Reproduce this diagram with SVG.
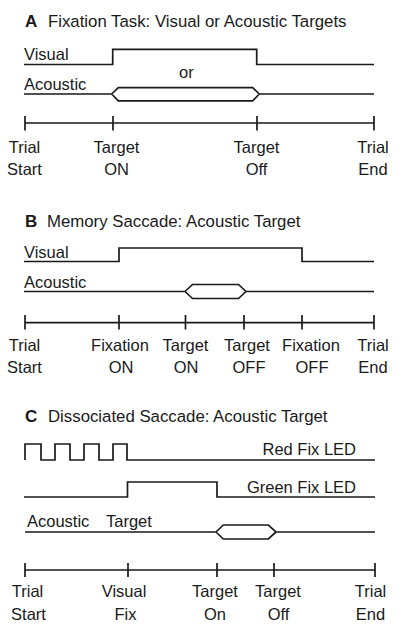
<svg xmlns="http://www.w3.org/2000/svg" width="400" height="635" viewBox="0 0 400 635">
<style>
text{font-family:"Liberation Sans",Arial,sans-serif;font-size:16.5px;fill:#1a1a1a}
.t{font-size:16.8px}
.b{font-weight:bold;font-size:17px}
.m{text-anchor:middle}
.w{fill:none;stroke:#1a1a1a;stroke-width:1.7;stroke-linejoin:miter}
</style>
<rect width="400" height="635" fill="#fff"/>
<g id="panelA">
<text x="25" y="26.5" class="b">A</text>
<text x="48" y="26.5" class="t">Fixation Task: Visual or Acoustic Targets</text>
<g id="A-visual"><text x="24" y="60">Visual</text></g>
<g id="A-acoustic"><text x="24" y="89.5">Acoustic</text></g>
<text x="179" y="78">or</text>
<g id="A-ticks">
<text x="24.5" y="153" class="m">Trial</text><text x="24.5" y="175" class="m">Start</text>
<text x="116.5" y="153" class="m">Target</text><text x="116.5" y="175" class="m">ON</text>
<text x="256.5" y="153" class="m">Target</text><text x="256.5" y="175" class="m">Off</text>
<text x="373" y="153" class="m">Trial</text><text x="373" y="175" class="m">End</text>
</g>
</g>
<g id="panelB">
<text x="25" y="226.5" class="b">B</text>
<text x="47" y="226.5" class="t">Memory Saccade: Acoustic Target</text>
<g id="B-visual"><text x="24" y="258">Visual</text></g>
<g id="B-acoustic"><text x="24" y="287.5">Acoustic</text></g>
<g id="B-ticks">
<text x="24.5" y="351" class="m">Trial</text><text x="24.5" y="373" class="m">Start</text>
<text x="120" y="351" class="m">Fixation</text><text x="121" y="373" class="m">ON</text>
<text x="185.5" y="351" class="m">Target</text><text x="186" y="373" class="m">ON</text>
<text x="247" y="351" class="m">Target</text><text x="249" y="373" class="m">OFF</text>
<text x="311" y="351" class="m">Fixation</text><text x="312" y="373" class="m">OFF</text>
<text x="373" y="351" class="m">Trial</text><text x="373" y="373" class="m">End</text>
</g>
</g>
<g id="panelC">
<text x="25" y="421.5" class="b">C</text>
<text x="48" y="421.5" class="t">Dissociated Saccade: Acoustic Target</text>
<g id="C-red"><text x="356" y="455" text-anchor="end">Red Fix LED</text></g>
<g id="C-green"><text x="356" y="493" text-anchor="end">Green Fix LED</text></g>
<g id="C-acoustic"><text x="27" y="527">Acoustic</text><text x="106" y="527">Target</text></g>
<g id="C-ticks">
<text x="27.5" y="597" class="m">Trial</text><text x="28.5" y="620" class="m">Start</text>
<text x="124" y="597" class="m">Visual</text><text x="125.5" y="620" class="m">Fix</text>
<text x="215" y="597" class="m">Target</text><text x="215" y="620" class="m">On</text>
<text x="278" y="597" class="m">Target</text><text x="278.5" y="620" class="m">Off</text>
<text x="370.5" y="597" class="m">Trial</text><text x="370.5" y="620" class="m">End</text>
</g>
</g>
<g id="connectors">
<path class="w" d="M24 64.5H112.7V49.3H256.7V64.5H374"/>
<path class="w" d="M24 94H111.7L118.3 87.7H252.7L259.3 94H374M111.7 94L118.3 100.8H252.7L259.3 94"/>
<path class="w" d="M25 123H374M25 116V130.5M113 116V130.5M257 116V130.5M374 116V130.5"/>
<path class="w" d="M24 261.5H119V248H302V261.5H374"/>
<path class="w" d="M24 291.5H185L192.5 284.5H238.5L246 291.5H374M185 291.5L192.5 298.5H238.5L246 291.5"/>
<path class="w" d="M25 322.7H374M25 315V329.5M119 315V329.5M185.5 315V329.5M244 315V329.5M302 315V329.5M374 315V329.5"/>
<path class="w" d="M25 460V444H41V460H55V444H70V460H84V444H99V460H113V444H127V460H375"/>
<path class="w" d="M24 497H127.5V482H217V497H375"/>
<path class="w" d="M25 532H216L223.3 525H268.3L276 532H375M216 532L223.3 539H268.3L276 532"/>
<path class="w" d="M25 570H375M25 563V577M128 563V577M217 563V577M274 563V577M375 563V577"/>
</g>
</svg>
